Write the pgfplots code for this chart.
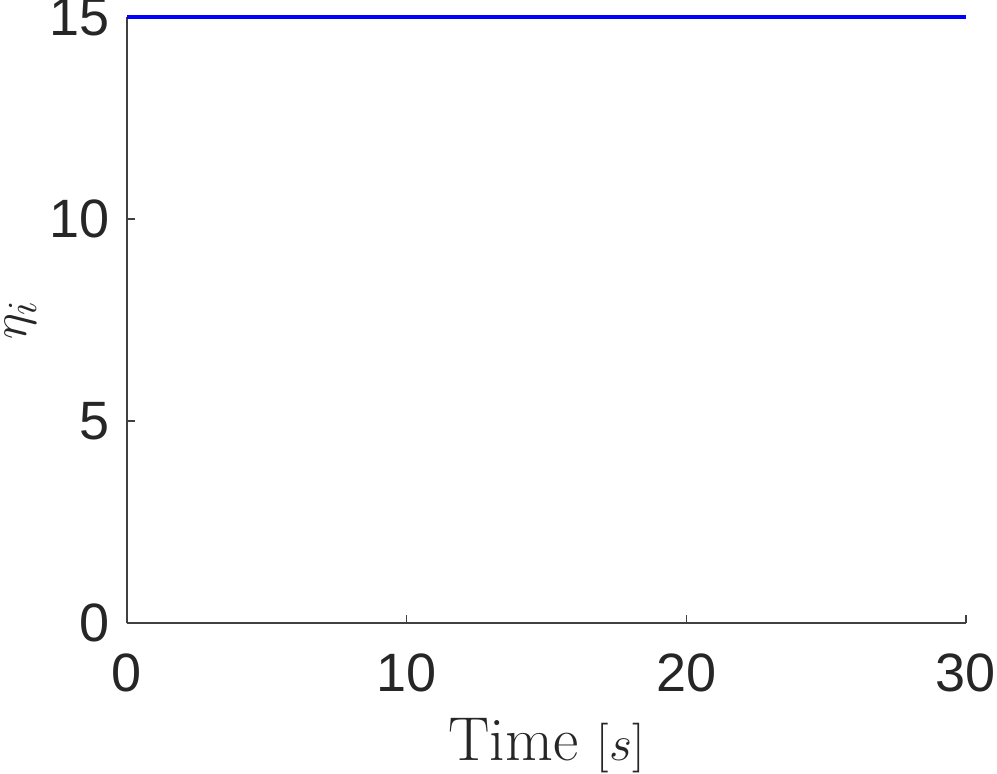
\documentclass[border=0pt]{standalone}
\usepackage{fontspec}
\usepackage{pgfplots}
\pgfplotsset{compat=1.18}
\newfontfamily\ticksans{Liberation Sans}
\definecolor{axgray}{HTML}{404040}
\begin{document}
\begin{tikzpicture}
\useasboundingbox (-63.5pt,-75pt) rectangle (435pt,311.5pt);
\begin{axis}[
  at={(0pt,0pt)}, anchor=south west,
  scale only axis, width=419.5pt, height=303pt,
  xmin=0, xmax=30, ymin=0, ymax=15,
  axis x line*=bottom, axis y line*=left,
  axis line style={axgray, line width=0.6pt},
  tick style={axgray, line width=0.6pt},
  tick align=inside, major tick length=4pt,
  xtick={0,10,20,30}, ytick={0,5,10,15},
  /pgf/number format/assume math mode=true,
  ticklabel style={font=\ticksans\fontsize{27}{31}\selectfont, text=black!85},
  xticklabel style={yshift=-12pt},
  yticklabel style={xshift=-5pt},
  xlabel={Time $[s]$},
  ylabel={$\eta_i$},
  label style={font=\fontsize{31}{36}\selectfont, text=black!85},
  xlabel style={yshift=-6pt},
  ylabel style={yshift=0pt},
  clip=false,
]
\addplot[blue, line width=2pt] coordinates {(0,15) (30,15)};
\end{axis}
\end{tikzpicture}
\end{document}
